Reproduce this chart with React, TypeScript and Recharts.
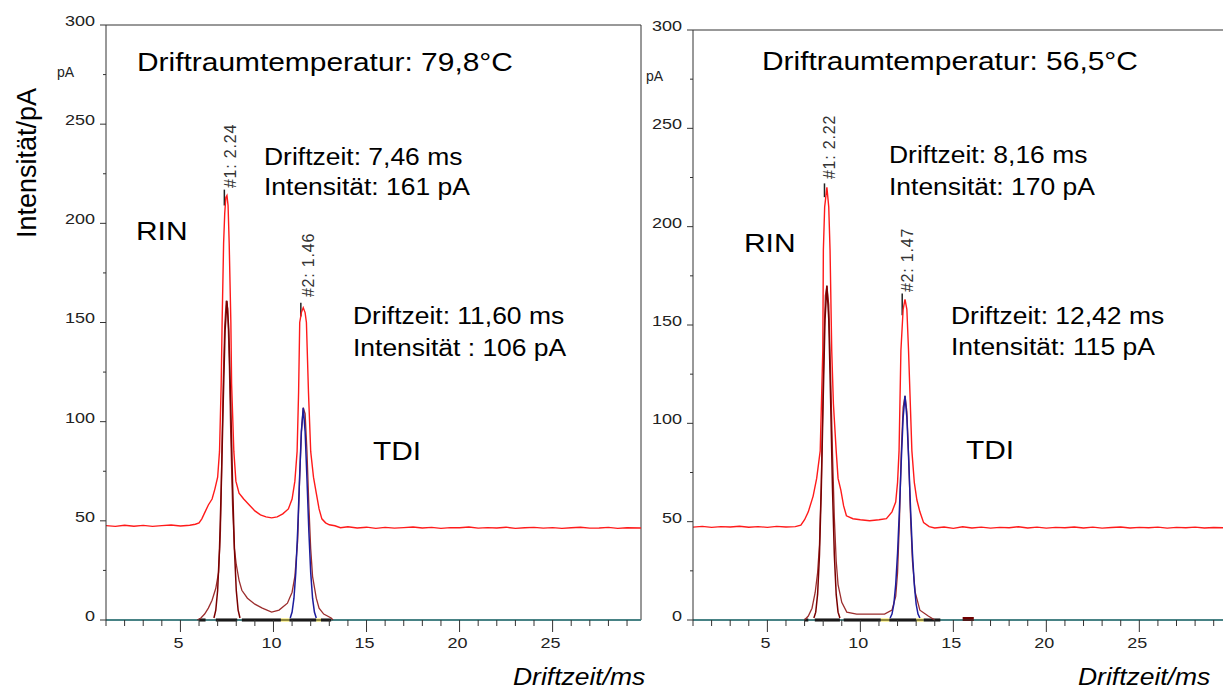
import React from 'react';
import { LineChart, Line, XAxis, YAxis, ReferenceLine } from 'recharts';

type Pt = [number, number];

// ---- left panel, 79,8 °C ----
const leftRaw: Pt[] = [
  [1, 47.6], [1.5, 47.2], [2, 47.8], [2.5, 47.3], [3, 47.7], [3.5, 47.2], [4, 47.6], [4.5, 47.9],
  [5, 47.4], [5.5, 47.8], [5.8, 48.3], [6.0, 49], [6.15, 51], [6.3, 54], [6.5, 58], [6.7, 61],
  [6.85, 66], [7.0, 72], [7.1, 85], [7.19, 119], [7.24, 150], [7.32, 190], [7.38, 205], [7.44, 213],
  [7.5, 214], [7.56, 209], [7.62, 190], [7.71, 150], [7.75, 119], [7.87, 85], [7.98, 70], [8.15, 64],
  [8.4, 61], [8.7, 58], [9.0, 55], [9.3, 53], [9.6, 52], [9.9, 51.5], [10.2, 52], [10.5, 53.5],
  [10.8, 56], [11.0, 61], [11.15, 70], [11.27, 85], [11.35, 115], [11.41, 150], [11.5, 155], [11.6, 157.5],
  [11.7, 155], [11.77, 150], [11.88, 115], [12.0, 85], [12.15, 72], [12.3, 64], [12.45, 56], [12.6, 51],
  [12.8, 49], [13.0, 48], [13.3, 47.5], [13.6, 46.5], [14, 47], [14.5, 46.4], [15, 46.8], [15.5, 46.2],
  [16, 46.7], [16.5, 46.3], [17, 46.6], [17.5, 46.9], [18, 46.4], [18.5, 46.7], [19, 46.2], [19.5, 46.6],
  [20, 46.5], [20.5, 46.9], [21, 46.3], [21.5, 46.6], [22, 46.4], [22.5, 46.8], [23, 46.2], [23.5, 46.5],
  [24, 46.7], [24.5, 46.3], [25, 46.6], [25.5, 46.2], [26, 46.5], [26.5, 46.8], [27, 46.3], [27.5, 46.4],
  [28, 46.7], [28.5, 46.2], [29, 46.5], [29.75, 46.4],
];
const leftSpectrum: Pt[] = [
  [5.9, 0], [6.1, 1], [6.3, 3], [6.5, 6], [6.7, 10], [6.9, 16], [7.05, 24], [7.15, 45], [7.22, 80],
  [7.3, 120], [7.38, 148], [7.46, 161], [7.54, 157], [7.62, 132], [7.7, 95], [7.8, 58], [7.9, 36],
  [8.0, 28], [8.15, 20], [8.3, 15], [8.6, 11], [9.0, 8], [9.4, 6], [9.9, 4], [10.3, 5], [10.75, 8.5],
  [11.0, 14], [11.15, 22], [11.3, 40], [11.4, 70], [11.5, 95], [11.6, 107], [11.7, 104], [11.8, 85],
  [11.9, 58], [12.0, 36], [12.1, 22], [12.3, 11], [12.45, 6], [12.7, 3], [13.1, 1], [13.2, 0],
];
const leftRinFit: Pt[] = [
  [6.8, 1], [6.9, 5], [7.0, 15], [7.1, 36], [7.2, 69], [7.3, 110], [7.4, 146], [7.5, 161],
  [7.6, 146], [7.7, 110], [7.8, 69], [7.9, 36], [8.0, 15], [8.1, 5], [8.2, 1],
];
const leftTdiFit: Pt[] = [
  [10.9, 1], [11.0, 4], [11.1, 11], [11.2, 24], [11.3, 45], [11.4, 71], [11.5, 95], [11.6, 107],
  [11.7, 95], [11.8, 71], [11.9, 45], [12.0, 24], [12.1, 11], [12.2, 4], [12.3, 1],
];
const leftBlack: Pt[] = [[6.0, 6.35], [6.9, 8.05], [8.3, 10.4], [10.85, 12.3], [12.55, 13.1]];
const leftYellow: Pt[] = [[10.4, 10.85], [12.3, 12.55]];
const leftMarks: [number, number, number][] = [[7.36, 209, 217], [11.47, 153, 160]];

// ---- right panel, 56,5 °C ----
const rightRaw: Pt[] = [
  [1, 47.2], [1.5, 47.6], [2, 47.1], [2.5, 47.5], [3, 47.3], [3.5, 47.7], [4, 47.2], [4.5, 47.5],
  [5, 47.1], [5.5, 47.6], [6, 47.3], [6.5, 47.5], [6.8, 48.2], [7.0, 51], [7.2, 55], [7.46, 63],
  [7.65, 72], [7.84, 86], [7.92, 115], [7.98, 137], [8.01, 188], [8.08, 210], [8.2, 220], [8.3, 210],
  [8.37, 188], [8.46, 137], [8.55, 110], [8.7, 86], [8.8, 72], [8.95, 66], [9.1, 58], [9.25, 53],
  [9.6, 51.5], [10.0, 51], [10.5, 50.5], [11.0, 51], [11.4, 51.5], [11.7, 55], [11.9, 60], [12.0, 70],
  [12.08, 86], [12.18, 137], [12.3, 158], [12.4, 163], [12.5, 158], [12.59, 137], [12.77, 86], [12.9, 70],
  [13.04, 61], [13.2, 55], [13.4, 49.5], [13.7, 47.5], [14, 46.8], [14.5, 47.3], [15, 46.6], [15.5, 47.4],
  [16, 46.8], [16.5, 47.2], [17, 46.7], [17.5, 47.1], [18, 46.9], [18.5, 47.4], [19, 46.8], [19.5, 47.2],
  [20, 46.7], [20.5, 47.1], [21, 46.9], [21.5, 47.3], [22, 46.8], [22.5, 47.2], [23, 46.7], [23.5, 47.0],
  [24, 47.3], [24.5, 46.8], [25, 47.1], [25.5, 46.9], [26, 47.2], [26.5, 46.7], [27, 47.1], [27.5, 46.9],
  [28, 47.2], [28.5, 46.8], [29, 47.0], [29.5, 46.9],
];
const rightSpectrum: Pt[] = [
  [7.0, 0], [7.2, 2], [7.4, 6], [7.57, 14], [7.7, 24], [7.8, 38], [7.9, 70], [7.98, 110], [8.05, 145],
  [8.12, 165], [8.2, 170], [8.3, 160], [8.4, 125], [8.5, 85], [8.6, 52], [8.7, 30], [8.8, 18], [9.0, 9],
  [9.27, 4], [9.8, 3], [10.5, 3], [11.3, 3], [11.7, 5], [11.9, 12], [12.0, 24], [12.1, 50], [12.2, 85],
  [12.3, 108], [12.4, 114], [12.5, 106], [12.6, 82], [12.7, 52], [12.8, 30], [12.95, 14], [13.2, 5],
  [13.65, 2], [14.0, 0],
];
const rightRinFit: Pt[] = [
  [7.5, 1], [7.6, 4], [7.7, 13], [7.8, 33], [7.9, 67], [8.0, 112], [8.1, 153], [8.2, 170],
  [8.3, 153], [8.4, 112], [8.5, 67], [8.6, 33], [8.7, 13], [8.8, 4], [8.9, 1],
];
const rightTdiFit: Pt[] = [
  [11.6, 1], [11.7, 3], [11.8, 8], [11.9, 18], [12.0, 34], [12.1, 56], [12.2, 81], [12.3, 103],
  [12.4, 114], [12.5, 103], [12.6, 81], [12.7, 56], [12.8, 34], [12.9, 18], [13.0, 8], [13.1, 3], [13.2, 1],
];
const rightBlack: Pt[] = [[7.0, 7.2], [7.55, 8.9], [9.1, 11.1], [11.55, 13.0], [13.4, 14.3]];
const rightYellow: Pt[] = [[11.1, 11.55], [13.0, 13.4]];
const rightBlob: Pt[] = [[15.5, 16.1]];
const rightMarks: [number, number, number][] = [[8.07, 215, 222], [12.25, 155, 166]];

const yTicks = [0, 25, 50, 75, 100, 125, 150, 175, 200, 225, 250, 275, 300];
const xTicks = [1, 2, 3, 4, 5, 6, 7, 8, 9, 10, 11, 12, 13, 14, 15, 16, 17, 18, 19, 20, 21, 22, 23, 24, 25, 26, 27, 28, 29];

const FONT = 'Arial, "Liberation Sans", sans-serif';
const rows = (pts: Pt[]) => pts.map(([t, v]) => ({ t, v }));

const YTick = (props: any) => {
  const { x, y, payload } = props;
  const major = payload.value % 50 === 0;
  return (
    <g>
      <line x1={x - (major ? 6 : 3)} x2={x} y1={y} y2={y} stroke="#333" />
      {major && (
        <text transform={`translate(${x - 11},${y - 3}) scale(1.2,1)`} textAnchor="end"
          dominantBaseline="middle" fontSize={15} fill="#222" fontFamily={FONT}>
          {payload.value}
        </text>
      )}
    </g>
  );
};

const XTick = (props: any) => {
  const { x, y, payload } = props;
  const major = payload.value % 5 === 0;
  return (
    <g>
      <line x1={x} x2={x} y1={y} y2={y + (major ? 12 : 6)} stroke="#333" />
      {major && (
        <text transform={`translate(${x - 2},${y + 24}) scale(1.2,1)`} textAnchor="middle"
          dominantBaseline="middle" fontSize={15} fill="#222" fontFamily={FONT}>
          {payload.value}
        </text>
      )}
    </g>
  );
};

function Panel(p: {
  left: number; width: number; top: number; mLeft: number; xMax: number; frameRight: boolean;
  raw: Pt[]; spectrum: Pt[]; rinFit: Pt[]; tdiFit: Pt[];
  black: Pt[]; yellow: Pt[]; blob: Pt[]; marks: [number, number, number][];
}) {
  return (
    <div style={{ position: 'absolute', left: p.left, top: 0 }}>
      <LineChart width={p.width} height={691} margin={{ top: p.top, right: p.frameRight ? 19 : 0, bottom: 31, left: p.mLeft }}>
        <XAxis dataKey="t" type="number" domain={[1, p.xMax]} ticks={xTicks} interval={0}
          allowDataOverflow height={40} tickSize={0} tickMargin={0} tick={<XTick />}
          axisLine={{ stroke: '#333' }} />
        <YAxis type="number" domain={[0, 300]} ticks={yTicks} interval={0} width={40}
          tickSize={0} tickMargin={0} tick={<YTick />} axisLine={{ stroke: '#333' }} />
        <ReferenceLine y={300} stroke="#333" />
        {p.frameRight && <ReferenceLine x={p.xMax} stroke="#333" />}
        <ReferenceLine y={0} stroke="#5fd3d8" strokeWidth={2} />
        {p.black.map(([a, b], i) => (
          <ReferenceLine key={'k' + i} segment={[{ x: a, y: 0 }, { x: b, y: 0 }]} stroke="#000" strokeWidth={3} />
        ))}
        {p.yellow.map(([a, b], i) => (
          <ReferenceLine key={'y' + i} segment={[{ x: a, y: 0 }, { x: b, y: 0 }]} stroke="#f2e34a" strokeWidth={3} />
        ))}
        {p.blob.map(([a, b], i) => (
          <ReferenceLine key={'b' + i} segment={[{ x: a, y: 0.5 }, { x: b, y: 0.5 }]} stroke="#700000" strokeWidth={4} />
        ))}
        {p.marks.map(([t, a, b], i) => (
          <ReferenceLine key={'m' + i} segment={[{ x: t, y: a }, { x: t, y: b }]} stroke="#222" strokeWidth={1.5} />
        ))}
        <Line data={rows(p.raw)} dataKey="v" type="linear" stroke="#ff1a1a" strokeWidth={1.4}
          dot={false} activeDot={false} isAnimationActive={false} />
        <Line data={rows(p.spectrum)} dataKey="v" type="linear" stroke="#9b2d2d" strokeWidth={1.3}
          dot={false} activeDot={false} isAnimationActive={false} />
        <Line data={rows(p.rinFit)} dataKey="v" type="linear" stroke="#7a0000" strokeWidth={1.5}
          dot={false} activeDot={false} isAnimationActive={false} />
        <Line data={rows(p.tdiFit)} dataKey="v" type="linear" stroke="#1c1c9c" strokeWidth={1.5}
          dot={false} activeDot={false} isAnimationActive={false} />
      </LineChart>
    </div>
  );
}

function Txt(props: { x: number; y: number; size: number; italic?: boolean; children: React.ReactNode }) {
  return (
    <div style={{
      position: 'absolute', left: props.x, top: props.y - props.size * 0.5, fontSize: props.size,
      lineHeight: `${props.size}px`, whiteSpace: 'nowrap', transform: 'scaleX(1.15)',
      transformOrigin: 'left center', fontStyle: props.italic ? 'italic' : 'normal', color: '#000',
    }}>
      {props.children}
    </div>
  );
}

function VTxt(props: { x: number; y: number; size: number; color?: string; spacing?: number; children: React.ReactNode }) {
  return (
    <div style={{
      position: 'absolute', left: props.x, top: props.y, fontSize: props.size, lineHeight: `${props.size}px`,
      whiteSpace: 'nowrap', transform: 'translate(-50%, -50%) rotate(-90deg)', color: props.color || '#000',
      letterSpacing: props.spacing || 0,
    }}>
      {props.children}
    </div>
  );
}

export default function App() {
  return (
    <div style={{ position: 'absolute', left: 0, top: 0, width: 1223, height: 691, background: '#fff', fontFamily: FONT, overflow: 'hidden' }}>
      <Panel left={0} width={660} top={25} mLeft={66} xMax={29.75} frameRight
        raw={leftRaw} spectrum={leftSpectrum} rinFit={leftRinFit} tdiFit={leftTdiFit}
        black={leftBlack} yellow={leftYellow} blob={[]} marks={leftMarks} />
      <Panel left={600} width={623} top={30} mLeft={53} xMax={29.5} frameRight={false}
        raw={rightRaw} spectrum={rightSpectrum} rinFit={rightRinFit} tdiFit={rightTdiFit}
        black={rightBlack} yellow={rightYellow} blob={rightBlob} marks={rightMarks} />

      <VTxt x={27} y={163} size={27}>Intensität/pA</VTxt>
      <div style={{ position: 'absolute', left: 57, top: 64, fontSize: 14, color: '#222' }}>pA</div>
      <div style={{ position: 'absolute', left: 646, top: 68, fontSize: 14, color: '#222' }}>pA</div>

      <Txt x={137} y={62} size={26}>Driftraumtemperatur: 79,8°C</Txt>
      <Txt x={264} y={157} size={23}>Driftzeit: 7,46 ms</Txt>
      <Txt x={264} y={187} size={23}>Intensität: 161 pA</Txt>
      <Txt x={136} y={231} size={26}>RIN</Txt>
      <Txt x={353} y={316} size={23}>Driftzeit: 11,60 ms</Txt>
      <Txt x={353} y={348} size={23}>Intensität : 106 pA</Txt>
      <Txt x={373} y={451} size={26}>TDI</Txt>
      <Txt x={513} y={677} size={23} italic>Driftzeit/ms</Txt>

      <Txt x={762} y={61} size={26}>Driftraumtemperatur: 56,5°C</Txt>
      <Txt x={889} y={155} size={23}>Driftzeit: 8,16 ms</Txt>
      <Txt x={889} y={187} size={23}>Intensität: 170 pA</Txt>
      <Txt x={744} y={243} size={26}>RIN</Txt>
      <Txt x={951} y={316} size={23}>Driftzeit: 12,42 ms</Txt>
      <Txt x={951} y={347} size={23}>Intensität: 115 pA</Txt>
      <Txt x={966} y={450} size={26}>TDI</Txt>
      <Txt x={1078} y={677} size={23} italic>Driftzeit/ms</Txt>

      <VTxt x={231} y={156} size={16} color="#333" spacing={0.8}>#1: 2.24</VTxt>
      <VTxt x={309} y={265} size={16} color="#333" spacing={0.8}>#2: 1.46</VTxt>
      <VTxt x={830} y={147} size={16} color="#333" spacing={0.8}>#1: 2.22</VTxt>
      <VTxt x={908} y={260} size={16} color="#333" spacing={0.8}>#2: 1.47</VTxt>
    </div>
  );
}
